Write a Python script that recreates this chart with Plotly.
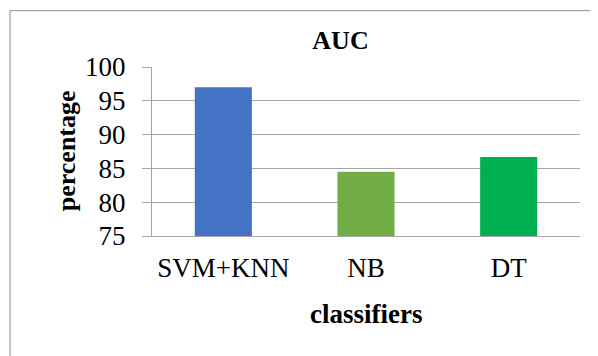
import plotly.graph_objects as go

categories = ["SVM+KNN", "NB", "DT"]
auc_values = [97.0, 84.5, 86.7]
bar_colors = ["#4472C4", "#70AD47", "#00B050"]
y_ticks = [75, 80, 85, 90, 95, 100]

# page body has an 8px margin, so the figure is drawn 8px in from the top-left
OFF = 8
W, H = 598 - OFF, 356 - OFF
L, R, T, B = 152 - OFF, 18, 66.5 - OFF, 120
pw = W - L - R
ph = H - T - B

def px_x(x):
    return (x - OFF - L) / pw

def px_y(y):
    return (H - B - (y - OFF)) / ph

fig = go.Figure(go.Bar(
    x=categories, y=auc_values, marker=dict(color=bar_colors, line=dict(width=0)),
    width=0.4,
))

grid = "#a6a6a6"
font_family = "Liberation Serif"

fig.update_layout(
    width=W, height=H,
    margin=dict(l=L, r=R, t=T, b=B, autoexpand=False),
    paper_bgcolor="white", plot_bgcolor="white",
    showlegend=False,
    title=dict(text="<b>AUC</b>", x=(340.5 - OFF) / W, xref="container", xanchor="center",
               y=1 - (40 - OFF) / H, yref="container", yanchor="middle",
               font=dict(family=font_family, size=26, color="black")),
    font=dict(family=font_family, color="black"),
)
fig.update_yaxes(
    range=[75, 100], tickvals=y_ticks, ticktext=[str(v) for v in y_ticks],
    showgrid=True, gridcolor=grid, gridwidth=1,
    showline=True, linecolor=grid, linewidth=1,
    ticks="outside", ticklen=9, tickcolor=grid, tickwidth=1,
    tickfont=dict(family=font_family, size=27, color="black"),
    ticklabelstandoff=11, zeroline=False, automargin=False,
)
fig.update_xaxes(
    showgrid=False, showline=True, linecolor=grid, linewidth=1,
    ticks="", tickfont=dict(family=font_family, size=27, color="black"),
    ticklabelstandoff=8, automargin=False,
)
fig.add_annotation(text="<b>classifiers</b>", xref="paper", yref="paper",
                   x=0.5, y=px_y(314), xanchor="center", yanchor="middle",
                   showarrow=False, font=dict(family=font_family, size=27, color="black"))
fig.add_annotation(text="<b>percentage</b>", xref="paper", yref="paper",
                   x=px_x(66.5), y=px_y(150.5), xanchor="center", yanchor="middle",
                   textangle=-90, showarrow=False,
                   font=dict(family=font_family, size=26, color="black"))
fig.add_shape(type="rect", xref="paper", yref="paper",
              x0=px_x(10), x1=px_x(640), y0=px_y(400), y1=px_y(10),
              line=dict(color="#8c8c8c", width=1), fillcolor="rgba(0,0,0,0)", layer="below")

fig.write_html("out.html")
